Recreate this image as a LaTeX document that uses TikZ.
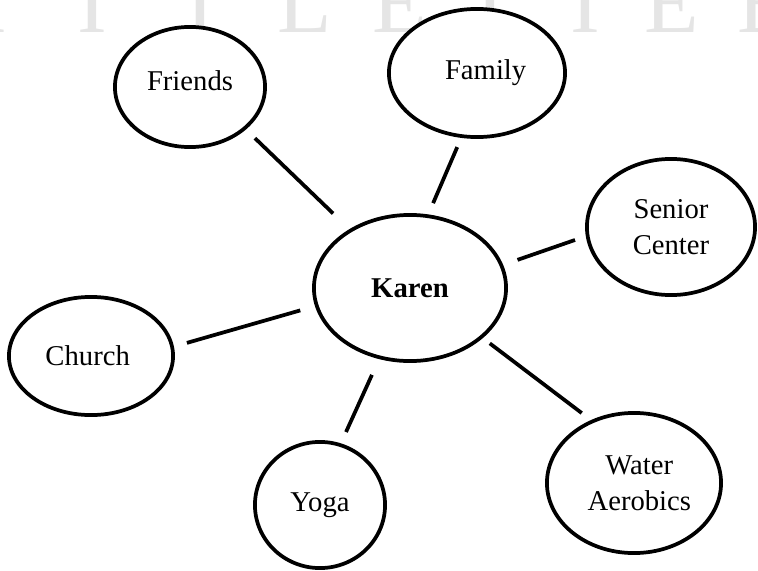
\documentclass[tikz,border=0pt]{standalone}
\usepackage{fontspec}
\setmainfont{Liberation Serif}
\usetikzlibrary{shapes.geometric,calc}
\tikzset{
  bubble/.style={ellipse, draw, line width=2.8pt, fill=white, inner sep=0pt,
    font=\fontsize{21.5}{27}\selectfont, align=center},
  link/.style={line width=2.8pt},
  wmark/.style={text=black!10, font=\fontsize{67}{67}\selectfont, anchor=base, inner sep=0pt}
}
\begin{document}
\begin{tikzpicture}[x=0.75pt,y=-0.75pt]
\useasboundingbox (0,0) rectangle (758,571);
% faint watermark letters cut off at the top edge
\begin{scope}
  \clip (0,0) rectangle (758,571);
  \node[wmark] (w1) at (-8,32) {I};
  \node[wmark] (w2) at (92,32) {I};
  \node[wmark] (w3) at (200,32) {I};
  \node[wmark] (w4) at (305,32) {L};
  \node[wmark] (w5) at (400,32) {E};
  \node[wmark] (w6) at (490,32) {I};
  \node[wmark] (w7) at (585,32) {I};
  \node[wmark] (w8) at (672,32) {E};
  \node[wmark] (w9) at (765,32) {E};
\end{scope}
% nodes
\node[bubble, minimum width=112.6pt, minimum height=90.1pt] (friends) at (190,87) {\raisebox{10pt}{Friends}};
\node[bubble, minimum width=132.1pt, minimum height=96.1pt] (family) at (477,73) {\hspace{13pt}Family};
\node[bubble, minimum width=126.1pt, minimum height=102.1pt] (senior) at (671,227) {Senior\\Center};
\node[bubble, minimum width=144.1pt, minimum height=109.6pt] (karen) at (410,288) {\textbf{Karen}};
\node[bubble, minimum width=123.1pt, minimum height=88.6pt] (church) at (91,356) {Church\hspace{5pt}};
\node[bubble, minimum width=97.6pt, minimum height=94.6pt] (yoga) at (320,505) {Yoga};
\node[bubble, minimum width=130.6pt, minimum height=105.1pt] (water) at (634,483) {\hspace{8pt}Water\\\hspace{8pt}Aerobics};
% connectors
\draw[link] ($(friends)!0.277!(karen)+(4,-4.5)$) -- ($(friends)!0.639!(karen)+(2.5,-2)$);
\draw[link] ($(family)!0.340!(karen)+(3,1)$) -- ($(family)!0.610!(karen)+(-3,-1)$);
\draw[link] ($(senior)!0.360!(karen)+(-2,-9)$) -- ($(senior)!0.588!(karen)+(0,-3)$);
\draw[link] ($(church)!0.296!(karen)+(1.5,7)$) -- ($(church)!0.656!(karen)+(0,-1)$);
\draw[link] ($(yoga)!0.329!(karen)+(-3.6,-1.6)$) -- ($(yoga)!0.595!(karen)+(-1.6,-1)$);
\draw[link] ($(water)!0.287!(karen)+(12,-14)$) -- ($(water)!0.675!(karen)+(7,-8)$);
\end{tikzpicture}
\end{document}
